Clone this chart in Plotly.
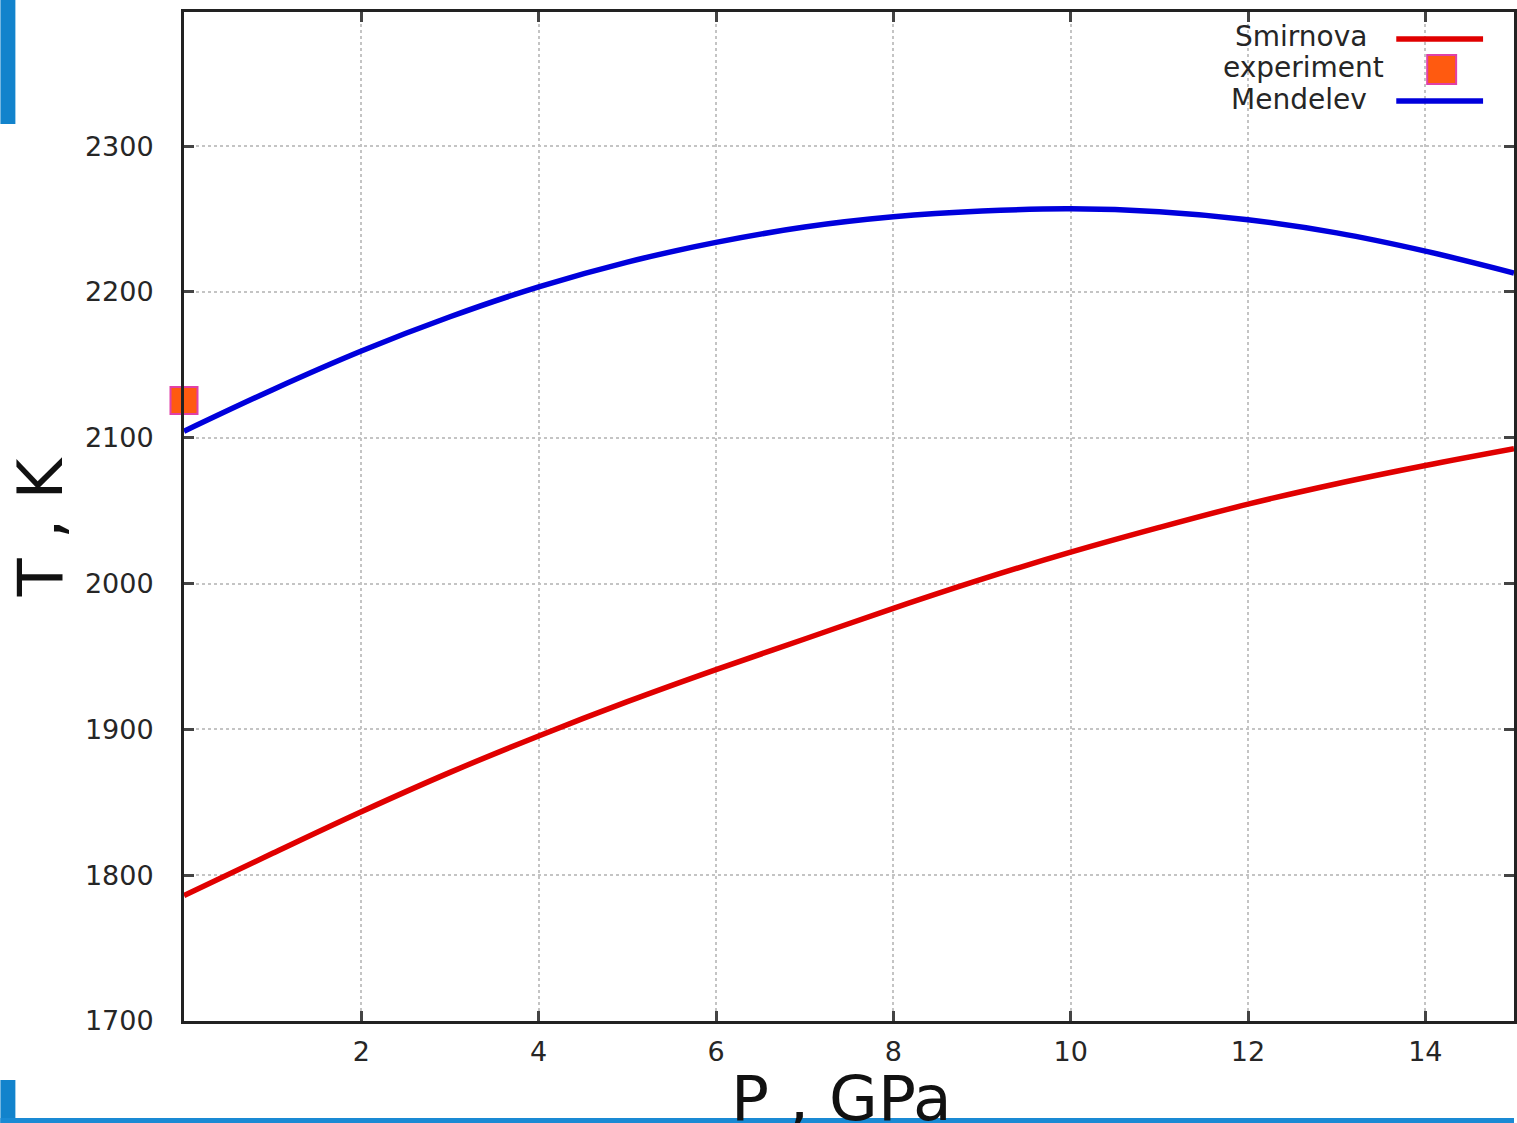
import plotly.graph_objects as go

# ---- data ----
pressure = [0, 1, 2, 3, 4, 5, 6, 7, 8, 9, 10, 11, 12, 13, 14, 15]
smirnova = [1786, 1815, 1843.5, 1870.5, 1895.5, 1919, 1941, 1962, 1983, 2003,
            2021.5, 2038.5, 2054.5, 2068.5, 2081, 2092.5]
mendelev = [2104.5, 2133, 2159.5, 2183, 2203.5, 2220.5, 2234, 2244.5, 2251.5, 2255.5,
            2257, 2255, 2249.5, 2240.5, 2228, 2213]
exp_p = [0]
exp_t = [2125.5]

x_ticks = [2, 4, 6, 8, 10, 12, 14]
y_ticks = [1700, 1800, 1900, 2000, 2100, 2200, 2300]
series_names = ["Smirnova", "experiment", "Mendelev"]

# ---- geometry ----
W, H = 1517, 1123
L, R, T, B = 184, 1517, 12, 1021
PW, PH = R - L, B - T


def px(x):
    return (x - L) / PW


def py(y):
    return (B - y) / PH


RED = "#e00000"
BLUE = "#0000dc"
SQ_FILL = "#ff5a10"
SQ_LINE = "#e040a8"
FONT = "DejaVu Sans"
TXT = "#262626"

fig = go.Figure()
fig.add_trace(go.Scatter(x=pressure, y=smirnova, mode="lines", name=series_names[0],
                         line=dict(color=RED, width=5.5, shape="spline")))
fig.add_trace(go.Scatter(x=pressure, y=mendelev, mode="lines", name=series_names[2],
                         line=dict(color=BLUE, width=5.5, shape="spline")))
fig.add_trace(go.Scatter(x=exp_p, y=exp_t, mode="markers", name=series_names[1],
                         marker=dict(symbol="square", size=27, color=SQ_FILL,
                                     line=dict(color=SQ_LINE, width=2)),
                         cliponaxis=False))

axis_common = dict(
    showline=True, linecolor="#222222", linewidth=3, mirror="allticks",
    ticks="inside", ticklen=10, tickwidth=3, tickcolor="#444444",
    showgrid=True, gridcolor="#c4c4c4", gridwidth=2, griddash="dot",
    zeroline=False, tickfont=dict(family=FONT, size=27, color=TXT),
)

fig.update_xaxes(range=[0, 15], tickvals=x_ticks, ticklabelstandoff=5, **axis_common)
fig.update_yaxes(range=[1700, 2392], tickvals=y_ticks, ticklabelstandoff=22, **axis_common)

shapes = []
# slide decorations (blue bars)
shapes.append(dict(type="rect", xref="paper", yref="paper", x0=px(0), x1=px(15),
                   y0=py(124), y1=py(0), fillcolor="#1283cc", line=dict(width=0), layer="below"))
shapes.append(dict(type="rect", xref="paper", yref="paper", x0=px(0), x1=px(15),
                   y0=py(1123), y1=py(1080), fillcolor="#1283cc", line=dict(width=0), layer="below"))
shapes.append(dict(type="rect", xref="paper", yref="paper", x0=px(0), x1=px(1517),
                   y0=py(1123), y1=py(1118), fillcolor="#1a8ad4", line=dict(width=0), layer="below"))
# legend samples
shapes.append(dict(type="line", xref="paper", yref="paper", x0=px(1399), x1=px(1486),
                   y0=py(39), y1=py(39), line=dict(color=RED, width=5.5)))
shapes.append(dict(type="rect", xref="paper", yref="paper", x0=px(1430), x1=px(1459),
                   y0=py(84), y1=py(55), fillcolor=SQ_FILL, line=dict(color=SQ_LINE, width=2)))
shapes.append(dict(type="line", xref="paper", yref="paper", x0=px(1399), x1=px(1486),
                   y0=py(101), y1=py(101), line=dict(color=BLUE, width=5.5)))

annotations = []
leg_pos = [(1372, 37), (1389, 67), (1372, 99)]
for name, (lx, ly) in zip(series_names, leg_pos):
    annotations.append(dict(text=name, xref="paper", yref="paper", x=px(lx), y=py(ly),
                            xanchor="right", yanchor="middle", showarrow=False,
                            font=dict(family=FONT, size=28, color=TXT)))
# axis titles
annotations.append(dict(text="P , GPa", xref="paper", yref="paper", x=px(843), y=py(1060),
                        xanchor="center", yanchor="top", showarrow=False,
                        font=dict(family=FONT, size=63, color="#111111")))
annotations.append(dict(text="T , K", xref="paper", yref="paper", x=px(41), y=py(527),
                        xanchor="center", yanchor="middle", textangle=-90, showarrow=False,
                        font=dict(family=FONT, size=62, color="#111111")))

fig.update_layout(
    width=W, height=H,
    margin=dict(l=L, r=W - R, t=T, b=H - B),
    paper_bgcolor="white", plot_bgcolor="white",
    showlegend=False,
    shapes=shapes, annotations=annotations,
)

fig.write_html(
    "out.html",
    config={"displayModeBar": False},
    post_script="document.body.style.margin='0';document.body.style.overflow='hidden';",
)
